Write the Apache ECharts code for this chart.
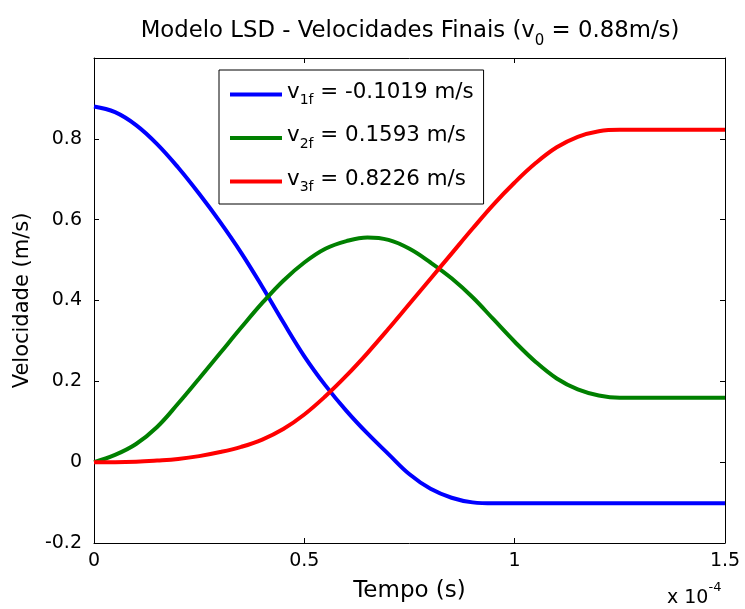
<!DOCTYPE html>
<html>
<head>
<meta charset="utf-8">
<script src="https://cdn.jsdelivr.net/npm/echarts@6/dist/echarts.min.js"></script>
<style>
html,body{margin:0;padding:0;background:#fff;}
#chart{width:745px;height:609px;}
</style>
</head>
<body>
<div id="chart"></div>
<script>
// time in units of 1e-4 s
var times = [0,0.05,0.1,0.15,0.2,0.25,0.3,0.35,0.4,0.45,0.5,0.55,0.6,0.65,0.7,0.75,0.8,0.85,0.9,0.95,1.0,1.05,1.1,1.15,1.2,1.25,1.3,1.35,1.4,1.45,1.5];
var v1 = [0.880,0.866,0.834,0.787,0.729,0.664,0.594,0.518,0.434,0.346,0.262,0.190,0.127,0.071,0.020,-0.030,-0.066,-0.088,-0.0995,-0.1019,-0.1019,-0.1019,-0.1019,-0.1019,-0.1019,-0.1019,-0.1019,-0.1019,-0.1019,-0.1019,-0.1019];
var v2 = [0,0.018,0.045,0.087,0.145,0.207,0.270,0.333,0.394,0.449,0.494,0.528,0.547,0.556,0.550,0.528,0.494,0.455,0.408,0.353,0.298,0.248,0.207,0.180,0.165,0.1593,0.1593,0.1593,0.1593,0.1593,0.1593];
var v3 = [0,0,0.001,0.004,0.008,0.015,0.025,0.038,0.056,0.082,0.118,0.163,0.214,0.270,0.330,0.392,0.454,0.516,0.578,0.638,0.692,0.740,0.779,0.805,0.819,0.8226,0.8226,0.8226,0.8226,0.8226,0.8226];
var seriesNames = ['v1f','v2f','v3f'];
var legendSubs = ['1f','2f','3f'];
var legendVals = ['-0.1019','0.1593','0.8226'];
var colors = ['#0000FF','#008000','#FF0000'];
var xTicks = [0,0.5,1,1.5];
var yTicks = [-0.2,0,0.2,0.4,0.6,0.8];

function pairs(vals){ return times.map(function(t,i){ return [t, vals[i]]; }); }
var FONT = "'DejaVu Sans', sans-serif";
var chart = echarts.init(document.getElementById('chart'));
var allVals = [v1, v2, v3];
var series = allVals.map(function(vals, i){
  return {
    name: seriesNames[i], type:'line', data: pairs(vals), smooth: 0.4,
    showSymbol:false, symbol:'none', lineStyle:{color:colors[i], width:4}, itemStyle:{color:colors[i]},
    xAxisIndex:0, yAxisIndex:0, animation:false
  };
});
var legendMap = {};
seriesNames.forEach(function(n,i){ legendMap[n] = i; });

chart.setOption({
  animation:false,
  title:{
    text:'{a|Modelo LSD - Velocidades Finais (v}{s|0}{a| = 0.88m/s)}',
    left: 405, top: 15, textAlign:'center',
    textStyle:{ fontWeight:'normal', rich:{
      a:{fontFamily:FONT, fontSize:22.8, fontWeight:'normal', color:'#000', verticalAlign:'top'},
      s:{fontFamily:FONT, fontSize:15, fontWeight:'normal', color:'#000', verticalAlign:'top', padding:[14,0,0,0]}
    }}
  },
  legend:{
    orient:'vertical', left:219, top:70,
    data: seriesNames,
    icon:'rect', itemWidth:52, itemHeight:4, itemGap:17.5,
    borderColor:'#000', borderWidth:1, padding:[11.5,10,9.5,11],
    backgroundColor:'#fff',
    formatter:function(n){ var i = legendMap[n]; return '{a|v}{s|'+legendSubs[i]+'}{a| = '+legendVals[i]+' m/s}'; },
    textStyle:{ rich:{
      a:{fontFamily:FONT, fontSize:21.4, color:'#000', verticalAlign:'top'},
      s:{fontFamily:FONT, fontSize:14, color:'#000', verticalAlign:'top', padding:[12,0,0,0]}
    }}
  },
  grid:{left:94, top:58, right:20, bottom:66, containLabel:false},
  xAxis:[{
    type:'value', min:0, max:1.5, interval:0.5, position:'bottom',
    name:'Tempo (s)', nameLocation:'middle', nameGap:37,
    nameTextStyle:{fontFamily:FONT, fontSize:23, color:'#000'},
    axisLine:{show:true, onZero:false, lineStyle:{color:'#000', width:1}},
    axisTick:{show:true, inside:true, length:5, lineStyle:{color:'#000'}},
    axisLabel:{fontFamily:FONT, fontSize:19, color:'#000', margin:9,
      formatter:function(v){ return xTicks.indexOf(v) >= 0 ? String(v) : ''; }},
    splitLine:{show:false}
  },{
    type:'value', min:0, max:1.5, interval:0.5, position:'top',
    axisLine:{show:true, onZero:false, lineStyle:{color:'#000', width:1}},
    axisTick:{show:true, inside:true, length:5, lineStyle:{color:'#000'}},
    axisLabel:{show:false}, splitLine:{show:false}
  }],
  yAxis:[{
    type:'value', min:-0.2, max:1.0, interval:0.2, position:'left',
    name:'Velocidade (m/s)', nameLocation:'middle', nameGap:61,
    nameTextStyle:{fontFamily:FONT, fontSize:21, color:'#000'},
    axisLine:{show:true, onZero:false, lineStyle:{color:'#000', width:1}},
    axisTick:{show:true, inside:true, length:5, lineStyle:{color:'#000'}},
    axisLabel:{fontFamily:FONT, fontSize:19, color:'#000', margin:12,
      formatter:function(v){ var r = Math.round(v*10)/10; return yTicks.indexOf(r) >= 0 ? String(r) : ''; }},
    splitLine:{show:false}
  },{
    type:'value', min:-0.2, max:1.0, interval:0.2, position:'right',
    axisLine:{show:true, onZero:false, lineStyle:{color:'#000', width:1}},
    axisTick:{show:true, inside:true, length:5, lineStyle:{color:'#000'}},
    axisLabel:{show:false}, splitLine:{show:false}
  }],
  graphic:[{
    type:'text', left:667, top:581,
    style:{ text:'{a|x 10}{p|-4}', rich:{
      a:{fontFamily:FONT, fontSize:19, fill:'#000', verticalAlign:'top', padding:[8,0,0,0]},
      p:{fontFamily:FONT, fontSize:13, fill:'#000', verticalAlign:'top'}
    }}
  }],
  series: series
});
</script>
</body>
</html>
